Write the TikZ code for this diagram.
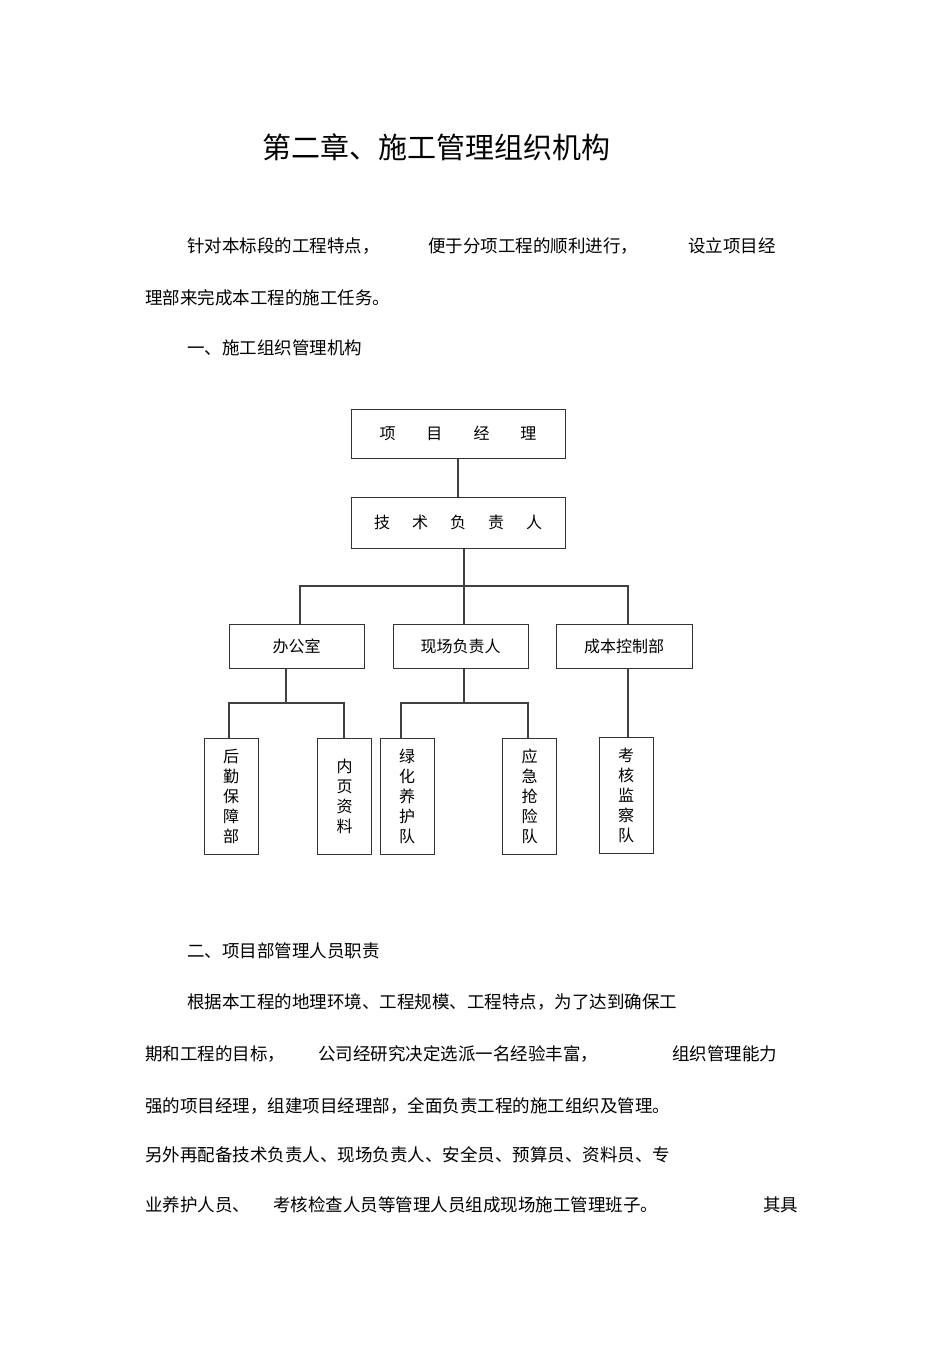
\documentclass[tikz,border=0pt]{standalone}
\usepackage{fontspec}
\setmainfont{Noto Sans CJK SC}
\begin{document}
\begin{tikzpicture}[x=1pt,y=-1pt,
  box/.style={draw=black!80,line width=1pt,inner sep=0pt,font=\fontsize{16}{20}\selectfont},
  conn/.style={draw=black!75,line width=1.2pt},
  txt/.style={anchor=west,inner sep=0pt,font=\fontsize{17.5}{20}\selectfont}]
\useasboundingbox (0,0) rectangle (950,1345);
\node[anchor=west,inner sep=0pt,font=\fontsize{29}{32}\selectfont] (title) at (262,147) {第二章、施工管理组织机构};
\node[txt] (p1a) at (187,246) {针对本标段的工程特点，};
\node[txt] (p1b) at (428,246) {便于分项工程的顺利进行，};
\node[txt] (p1c) at (688,246) {设立项目经};
\node[txt] (p2) at (145,298) {理部来完成本工程的施工任务。};
\node[txt] (h1) at (187,348) {一、施工组织管理机构};
\node[txt] (h2) at (187,951) {二、项目部管理人员职责};
\node[txt] (q1) at (187,1002) {根据本工程的地理环境、工程规模、工程特点，为了达到确保工};
\node[txt] (q2a) at (145,1054) {期和工程的目标，};
\node[txt] (q2b) at (318,1054) {公司经研究决定选派一名经验丰富，};
\node[txt] (q2c) at (672,1054) {组织管理能力};
\node[txt] (q3) at (145,1106) {强的项目经理，组建项目经理部，全面负责工程的施工组织及管理。};
\node[txt] (q4) at (145,1155) {另外再配备技术负责人、现场负责人、安全员、预算员、资料员、专};
\node[txt] (q5a) at (145,1205) {业养护人员、};
\node[txt] (q5b) at (273,1205) {考核检查人员等管理人员组成现场施工管理班子。};
\node[txt] (q5c) at (763,1205) {其具};
% chart
\node[box,minimum width=214pt,minimum height=49pt] (pm) at (458,433.5) {项\hspace{31pt}目\hspace{31pt}经\hspace{31pt}理};
\node[box,minimum width=214pt,minimum height=51pt] (tech) at (458,522.5) {技\hspace{22pt}术\hspace{22pt}负\hspace{22pt}责\hspace{22pt}人};
\node[box,minimum width=135pt,minimum height=44pt] (off) at (296.5,646) {办公室};
\node[box,minimum width=135pt,minimum height=44pt] (site) at (460.5,646) {现场负责人};
\node[box,minimum width=136pt,minimum height=44pt] (cost) at (624,646) {成本控制部};
\tikzset{vbox/.style={box,minimum width=54pt,minimum height=116pt,align=center}}
\node[vbox] (a1) at (231,796) {后\\勤\\保\\障\\部};
\node[vbox] (a2) at (344.5,796) {内\\页\\资\\料};
\node[vbox] (b1) at (407,796) {绿\\化\\养\\护\\队};
\node[vbox] (b2) at (529.5,796) {应\\急\\抢\\险\\队};
\node[vbox] (c1) at (626,795) {考\\核\\监\\察\\队};
\draw[conn,line width=2pt] (pm.south) -- (pm.south |- tech.north);
\coordinate (j1) at (464,586);
\draw[conn] (tech.south -| j1) -- (j1);
\draw[conn] (300,624) -- (300,586) -- (628,586) -- (628,624);
\draw[conn] (j1) -- (j1 |- site.north);
\coordinate (j2) at (286,703);
\draw[conn] (off.south -| j2) -- (j2);
\draw[conn,line width=2pt] (a1.north -| 229,0) -- (229,703) -- (344,703) -- (344,738);
\coordinate (j3) at (464,703);
\draw[conn] (site.south -| j3) -- (j3);
\draw[conn] (401,738) -- (401,703) -- (528,703) -- (528,738);
\draw[conn,line width=2pt] (cost.south -| 628,0) -- (628,737);
\end{tikzpicture}
\end{document}
